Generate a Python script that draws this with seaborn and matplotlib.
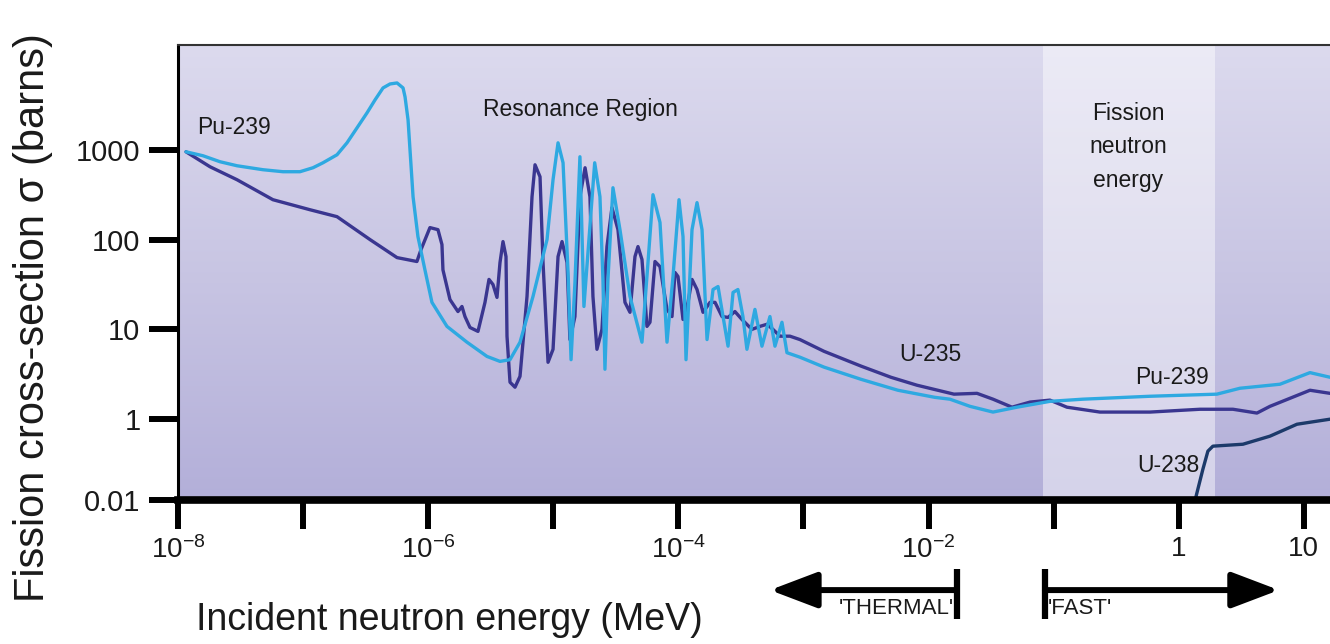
import numpy as np
import pandas as pd
import seaborn as sns
import matplotlib
matplotlib.use("Agg")
import matplotlib.pyplot as plt
import matplotlib.transforms as mtransforms
from matplotlib.colors import LinearSegmentedColormap
from matplotlib.ticker import NullLocator

# ---------------- data (energy as log10(MeV), cross-section in barns) ----------------
u235_energy_exp = [-7.936, -7.744, -7.528, -7.241, -6.945, -6.729, -6.465, -6.249, -6.090, -6.058,
                   -5.986, -5.922, -5.890, -5.882, -5.826, -5.762, -5.730, -5.706, -5.666, -5.602,
                   -5.546, -5.514, -5.482, -5.450, -5.426, -5.402, -5.378, -5.370, -5.346, -5.306,
                   -5.266, -5.210, -5.170, -5.146, -5.106, -5.082, -5.042, -5.002, -4.962, -4.930,
                   -4.890, -4.867, -4.827, -4.787, -4.746, -4.707, -4.683, -4.651, -4.611, -4.571,
                   -4.531, -4.483, -4.427, -4.387, -4.347, -4.323, -4.291, -4.251, -4.227, -4.187,
                   -4.147, -4.091, -4.051, -4.027, -4.003, -3.963, -3.923, -3.891, -3.851, -3.803,
                   -3.747, -3.707, -3.651, -3.603, -3.548, -3.492, -3.412, -3.348, -3.292, -3.244,
                   -3.188, -3.108, -3.028, -2.836, -2.540, -2.301, -2.093, -1.797, -1.613, -1.485,
                   -1.333, -1.189, -1.030, -0.894, -0.630, -0.230, 0.170, 0.433, 0.625, 0.729,
                   1.049, 1.209]
u235_sigma = [950, 647, 464, 278, 215, 180, 100, 63, 57, 77,
              136, 129, 88, 46, 21.5, 15.8, 18, 13.9, 10.5, 9.5,
              20, 36, 31.6, 22.7, 55.5, 95, 64.7, 8.4, 2.58, 2.27,
              3.0, 23.3, 300, 681, 501, 55.5, 4.3, 6.0, 64.7, 95,
              55.5, 7.7, 13.9, 300, 631, 300, 23.3, 6.0, 10, 83.6,
              227, 129, 20, 15.5, 64.7, 83.6, 60, 10.8, 12, 57,
              50, 16.7, 13.9, 43, 38.8, 12.9, 20, 36, 27.8, 15.5,
              20, 20, 13.9, 13.6, 15.8, 12.9, 10, 10.8, 11.4, 10,
              8.4, 8.4, 7.7, 5.7, 3.9, 2.93, 2.39, 1.9, 1.94, 1.67,
              1.36, 1.55, 1.63, 1.36, 1.2, 1.2, 1.29, 1.29, 1.17, 1.39,
              2.1, 1.94]

pu239_energy_exp = [-7.936, -7.800, -7.664, -7.528, -7.321, -7.161, -7.025, -6.921, -6.841, -6.729,
                    -6.649, -6.569, -6.489, -6.425, -6.361, -6.305, -6.249, -6.201, -6.185,
                    -6.161, -6.121, -6.082, -6.026, -5.970, -5.850, -5.690, -5.530, -5.426, -5.346,
                    -5.266, -5.162, -5.050, -5.002, -4.962, -4.922, -4.882, -4.858, -4.827, -4.787,
                    -4.755, -4.669, -4.627, -4.603, -4.587, -4.563, -4.523, -4.467,
                    -4.387, -4.291, -4.243, -4.203, -4.147, -4.091, -4.043, -3.995, -3.963, -3.939,
                    -3.891, -3.851, -3.811, -3.771, -3.723, -3.683, -3.643, -3.603, -3.563, -3.524,
                    -3.484, -3.452, -3.388, -3.332, -3.268, -3.228, -3.172, -3.132, -3.028, -2.836,
                    -2.540, -2.245, -1.949, -1.829, -1.669, -1.485, -1.293, -1.030, -0.766, -0.230,
                    0.305, 0.489, 0.809, 1.049, 1.209]
pu239_sigma = [950, 858, 736, 664, 600, 570, 570, 631, 717, 880,
               1196, 1755, 2578, 3594, 4887, 5410, 5550, 4887, 3880,
               2154, 300, 108, 46, 20, 10.8, 7.2, 5.0, 4.4, 4.6,
               7.2, 23.3, 100, 464, 1196, 717, 43, 4.6, 33, 836,
               18, 717, 300, 36, 3.6, 36, 378, 129,
               23.3, 7.2, 55.5, 316, 155, 7.2, 38.8, 278, 108, 4.6,
               129, 258, 129, 7.7, 27.8, 30, 13.9, 6.5, 25.8, 27.8,
               13.9, 6.0, 16.7, 6.5, 13.9, 6.5, 12, 5.5, 4.9, 3.8,
               2.78, 2.1, 1.75, 1.67, 1.39, 1.2, 1.36, 1.58, 1.67, 1.8,
               1.9, 2.21, 2.45, 3.3, 2.93]

u238_energy_exp = [0.113, 0.153, 0.193, 0.233, 0.273, 0.513, 0.729, 0.945, 1.209]
u238_sigma = [0.006, 0.0187, 0.058, 0.162, 0.215, 0.24, 0.38, 0.75, 1.0]

y_tick_values = [0.01, 1, 10, 100, 1000]
y_tick_labels = ["0.01", "1", "10", "100", "1000"]
x_tick_exps = [-8, -7, -6, -5, -4, -3, -2, -1, 0, 1]
x_tick_labels = [r"$\mathregular{10^{-8}}$", "", r"$\mathregular{10^{-6}}$", "",
                 r"$\mathregular{10^{-4}}$", "", r"$\mathregular{10^{-2}}$", "", "1", "10"]

colors = {"Pu-239": "#2ea9e1", "U-235": "#3a3690", "U-238": "#1c3a6a"}

# ---------------- style ----------------
sns.set_style("white")
plt.rcParams["font.family"] = ["Liberation Sans", "DejaVu Sans"]
plt.rcParams["mathtext.fontset"] = "custom"
plt.rcParams["mathtext.rm"] = "Liberation Sans"
plt.rcParams["axes.unicode_minus"] = False

frames = []
for name, ex, sg in [("U-235", u235_energy_exp, u235_sigma),
                     ("Pu-239", pu239_energy_exp, pu239_sigma),
                     ("U-238", u238_energy_exp, u238_sigma)]:
    frames.append(pd.DataFrame({"isotope": name,
                                "energy": 10.0 ** np.asarray(ex, dtype=float),
                                "sigma": np.asarray(sg, dtype=float)}))
df = pd.concat(frames, ignore_index=True)

fig = plt.figure(figsize=(13.3, 6.44), dpi=100)
pos = [178 / 1330, 144 / 644, 1152 / 1330, 455 / 644]

# gradient background
bg = fig.add_axes(pos, zorder=0)
cmap = LinearSegmentedColormap.from_list("bg", ["#b3afd9", "#c8c5e3", "#dcdaee"])
grad = np.linspace(1, 0, 256).reshape(-1, 1)
bg.imshow(grad, aspect="auto", cmap=cmap, extent=[0, 1, 0, 1], origin="upper")
bg.axis("off")

ax = fig.add_axes(pos, zorder=1)
ax.patch.set_alpha(0)


def fwd(v):
    v = np.clip(np.asarray(v, dtype=float), 1e-30, None)
    lv = np.log10(v)
    return np.where(lv >= 0, lv, 0.45 * lv)


def inv(f):
    f = np.asarray(f, dtype=float)
    return np.where(f >= 0, 10.0 ** f, 10.0 ** (f / 0.45))


ax.set_xscale("log")
ax.set_yscale("function", functions=(fwd, inv))

# fission neutron energy band
ax.axvspan(10 ** -1.086, 10 ** 0.289, color="white", alpha=0.45, lw=0, zorder=0.5)

sns.lineplot(data=df, x="energy", y="sigma", hue="isotope", palette=colors,
             sort=False, estimator=None, legend=False, ax=ax, lw=2.4,
             solid_joinstyle="round", solid_capstyle="round", zorder=2)

ax.set_xlim(1e-8, 10 ** 1.209)
ax.set_ylim(0.01, 10 ** 4.167)

# axes styling
ax.spines["right"].set_visible(False)
ax.spines["top"].set_linewidth(1.5)
ax.spines["top"].set_color("#333333")
ax.spines["left"].set_linewidth(2.2)
ax.spines["left"].set_color("black")
ax.spines["bottom"].set_linewidth(5.5)
ax.spines["bottom"].set_color("black")

ax.set_xticks([10.0 ** e for e in x_tick_exps])
ax.set_xticklabels(x_tick_labels)
ax.xaxis.set_minor_locator(NullLocator())
ax.set_yticks(y_tick_values)
ax.set_yticklabels(y_tick_labels)
ax.yaxis.set_minor_locator(NullLocator())
ax.tick_params(axis="x", which="major", bottom=True, direction="out", length=21, width=4.3,
               color="black", pad=5, labelsize=20, labelcolor="#1a1a1a")
ax.tick_params(axis="y", which="major", left=True, direction="out", length=21, width=4.3,
               color="black", pad=6, labelsize=21, labelcolor="#1a1a1a")

ax.set_ylabel("Fission cross-section σ (barns)", fontsize=30, color="#1a1a1a")
ax.yaxis.set_label_coords(-0.126, 0.40)
ax.yaxis.label.set_va("center")
ax.set_xlabel("Incident neutron energy (MeV)", fontsize=27, color="#1a1a1a")
ax.xaxis.set_label_coords(0.236, -0.264)
ax.xaxis.label.set_va("center")

# annotations
tk = dict(fontsize=16.5, color="#1a1a1a")
ax.text(10 ** -7.848, 1755, "Pu-239", ha="left", va="center", **tk)
ax.text(10 ** -4.786, 2780, "Resonance Region", ha="center", va="center", **tk)
ax.text(10 ** -1.989, 5.3, "U-235", ha="center", va="center", **tk)
ax.text(10 ** -0.054, 2.93, "Pu-239", ha="center", va="center", **tk)
ax.text(10 ** -0.086, 0.073, "U-238", ha="center", va="center", **tk)
ax.text(10 ** -0.406, 1080, "Fission\nneutron\nenergy", ha="center", va="center",
        linespacing=1.58, **tk)

# THERMAL / FAST arrows below the axis
blend = mtransforms.blended_transform_factory(ax.transData, ax.transAxes)
arrow_y = -0.198
aprops = dict(arrowstyle="-|>,head_length=1.45,head_width=0.55", lw=4.3, color="black",
              mutation_scale=20, shrinkA=0, shrinkB=0)
ax.annotate("", xy=(10 ** -3.268, arrow_y), xycoords=blend,
            xytext=(10 ** -1.773, arrow_y), textcoords=blend,
            arrowprops=aprops, annotation_clip=False)
ax.annotate("", xy=(10 ** 0.801, arrow_y), xycoords=blend,
            xytext=(10 ** -1.070, arrow_y), textcoords=blend,
            arrowprops=aprops, annotation_clip=False)
for xe in (-1.773, -1.070):
    ax.plot([10 ** xe, 10 ** xe], [-0.152, -0.262], transform=blend, clip_on=False,
            color="black", lw=4.5, solid_capstyle="butt")
ax.text(10 ** -1.80, -0.238, "'THERMAL'", transform=blend, ha="right", va="center",
        fontsize=16, color="#1a1a1a")
ax.text(10 ** -1.045, -0.238, "'FAST'", transform=blend, ha="left", va="center",
        fontsize=16, color="#1a1a1a")

fig.savefig("out.png", dpi=100, facecolor="white")
